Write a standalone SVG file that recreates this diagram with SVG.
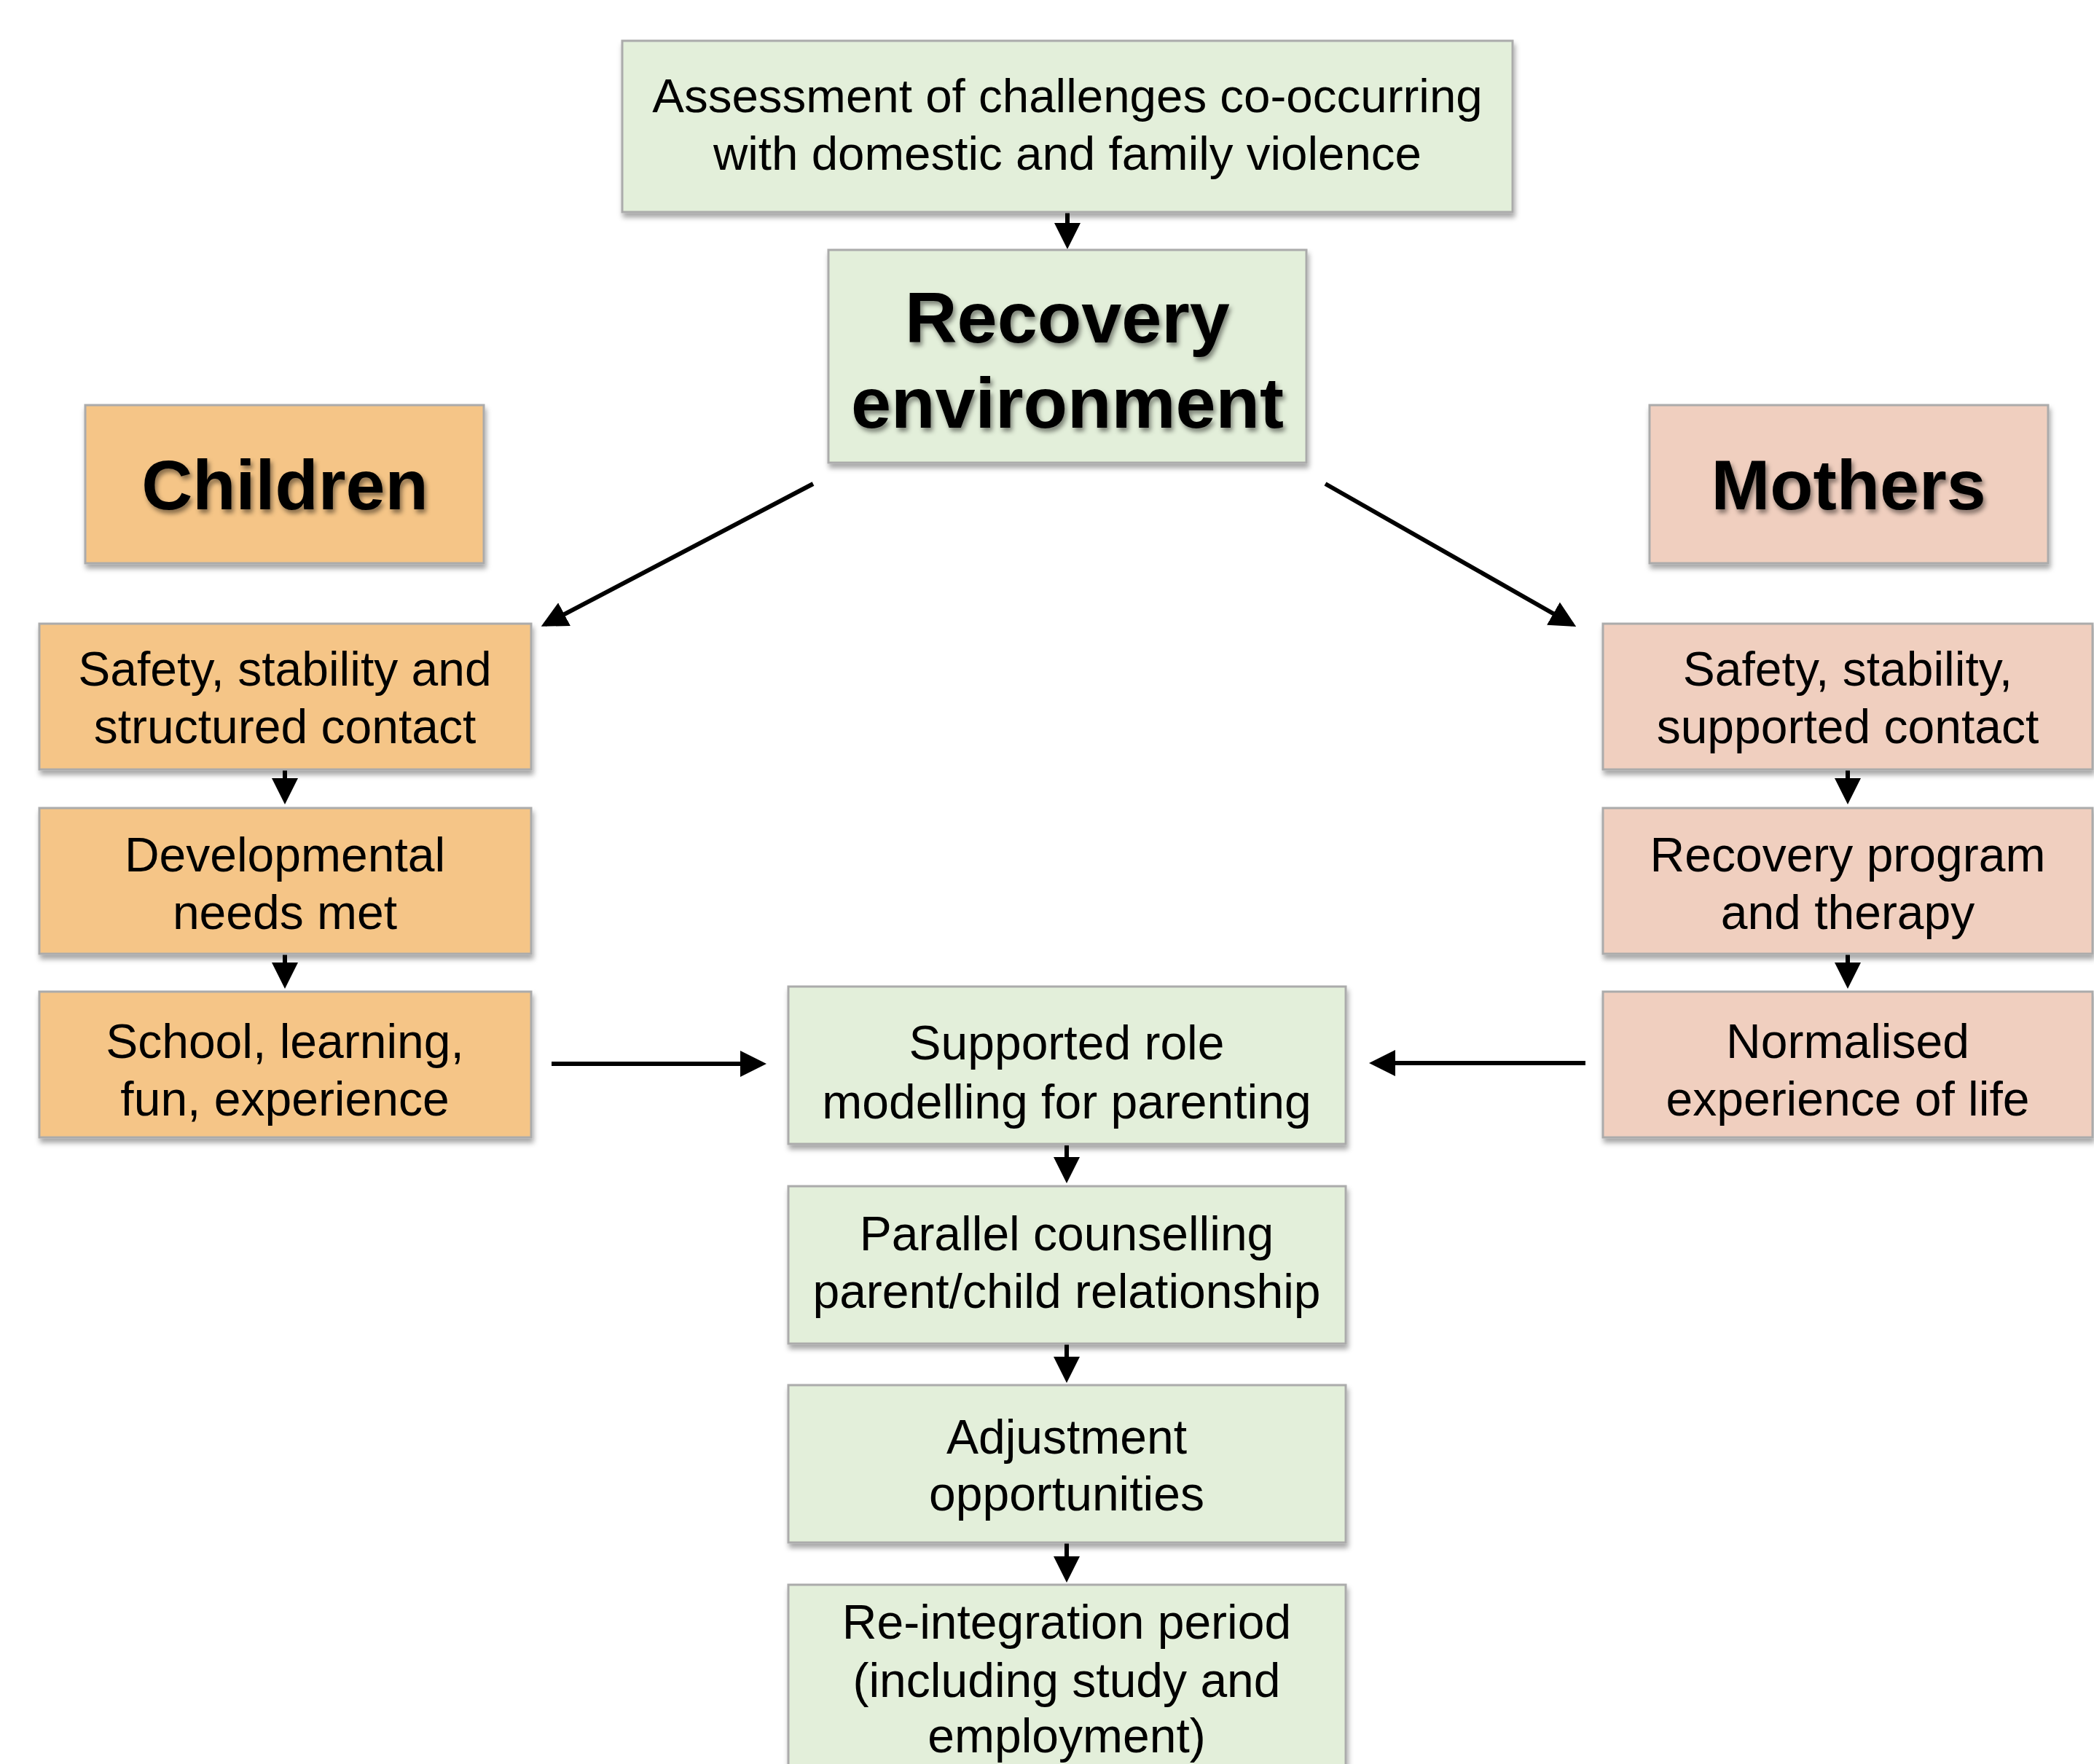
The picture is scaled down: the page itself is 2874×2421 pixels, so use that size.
<svg xmlns="http://www.w3.org/2000/svg" width="2874" height="2421" viewBox="0 0 2874 2421">
<defs>
<filter id="boxShadow" x="-5%" y="-10%" width="115%" height="130%">
<feDropShadow dx="2" dy="6" stdDeviation="3.5" flood-color="#000" flood-opacity="0.35"/>
</filter>
<filter id="textShadow" x="-5%" y="-10%" width="115%" height="130%">
<feDropShadow dx="3" dy="5" stdDeviation="3" flood-color="#000" flood-opacity="0.45"/>
</filter>
<marker id="arrow" viewBox="0 0 36 36" refX="30" refY="18" markerWidth="36" markerHeight="36" markerUnits="userSpaceOnUse" orient="auto">
<path d="M0,0 L36,18 L0,36 z" fill="#000"/>
</marker>
</defs>
<style>
.box { stroke: #ababab; stroke-width: 3; filter: url(#boxShadow); }
.green { fill: #e3efda; }
.orange { fill: #f5c587; }
.pink { fill: #f0cfbf; }
.t { font-family: "Liberation Sans", Arial, Helvetica, sans-serif; font-size: 66px; fill: #000; text-anchor: middle; }
.top { font-size: 65.5px; }
.title { font-family: "Liberation Sans", Arial, Helvetica, sans-serif; font-weight: bold; font-size: 97px; fill: #000; text-anchor: middle; filter: url(#textShadow); }
.big { font-size: 99px; }
.conn { stroke: #000; stroke-width: 6; fill: none; marker-end: url(#arrow); }
</style>
<rect width="2874" height="2421" fill="#fff"/>

<g id="connectors">
<line class="conn" x1="1465" y1="292" x2="1465" y2="336"/>
<line class="conn" x1="1116" y1="664" x2="748" y2="857"/>
<line class="conn" x1="1819" y1="664" x2="2158" y2="857"/>
<line class="conn" x1="391" y1="1057" x2="391" y2="1098"/>
<line class="conn" x1="391" y1="1310" x2="391" y2="1351"/>
<line class="conn" x1="2536" y1="1057" x2="2536" y2="1098"/>
<line class="conn" x1="2536" y1="1310" x2="2536" y2="1351"/>
<line class="conn" x1="757" y1="1460" x2="1046" y2="1460"/>
<line class="conn" x1="2176" y1="1459" x2="1885" y2="1459"/>
<line class="conn" x1="1464" y1="1572" x2="1464" y2="1618"/>
<line class="conn" x1="1464" y1="1845" x2="1464" y2="1892"/>
<line class="conn" x1="1464" y1="2118" x2="1464" y2="2166"/>
</g>

<g id="assessment">
<rect class="box green" x="854" y="56" width="1222" height="235"/>
<text class="t top" x="1465" y="154">Assessment of challenges co-occurring</text>
<text class="t top" x="1465" y="233">with domestic and family violence</text>
</g>

<g id="recovery-environment">
<rect class="box green" x="1137" y="343" width="656" height="292"/>
<text class="title big" x="1465" y="470">Recovery</text>
<text class="title big" x="1465" y="587">environment</text>
</g>

<g id="children">
<rect class="box orange" x="117" y="556" width="547" height="217"/>
<text class="title" x="391" y="699">Children</text>
</g>

<g id="mothers">
<rect class="box pink" x="2264" y="556" width="547" height="217"/>
<text class="title" x="2537" y="699">Mothers</text>
</g>

<g id="children-safety">
<rect class="box orange" x="54" y="856" width="675" height="200"/>
<text class="t" x="391" y="941">Safety, stability and</text>
<text class="t" x="391" y="1020">structured contact</text>
</g>

<g id="children-developmental">
<rect class="box orange" x="54" y="1109" width="675" height="200"/>
<text class="t" x="391" y="1196">Developmental</text>
<text class="t" x="391" y="1275">needs met</text>
</g>

<g id="children-school">
<rect class="box orange" x="54" y="1361" width="675" height="200"/>
<text class="t" x="391" y="1452">School, learning,</text>
<text class="t" x="391" y="1531">fun, experience</text>
</g>

<g id="mothers-safety">
<rect class="box pink" x="2200" y="856" width="672" height="200"/>
<text class="t" x="2536" y="941">Safety, stability,</text>
<text class="t" x="2536" y="1020">supported contact</text>
</g>

<g id="mothers-recovery">
<rect class="box pink" x="2200" y="1109" width="672" height="200"/>
<text class="t" x="2536" y="1196">Recovery program</text>
<text class="t" x="2536" y="1275">and therapy</text>
</g>

<g id="mothers-normalised">
<rect class="box pink" x="2200" y="1361" width="672" height="200"/>
<text class="t" x="2536" y="1452">Normalised</text>
<text class="t" x="2536" y="1531">experience of life</text>
</g>

<g id="role-modelling">
<rect class="box green" x="1082" y="1354" width="765" height="216"/>
<text class="t" x="1464" y="1454">Supported role</text>
<text class="t" x="1464" y="1535">modelling for parenting</text>
</g>

<g id="parallel-counselling">
<rect class="box green" x="1082" y="1628" width="765" height="216"/>
<text class="t" x="1464" y="1716">Parallel counselling</text>
<text class="t" x="1464" y="1795">parent/child relationship</text>
</g>

<g id="adjustment">
<rect class="box green" x="1082" y="1901" width="765" height="216"/>
<text class="t" x="1464" y="1995">Adjustment</text>
<text class="t" x="1464" y="2073">opportunities</text>
</g>

<g id="reintegration">
<rect class="box green" x="1082" y="2175" width="765" height="280"/>
<text class="t" x="1464" y="2249">Re-integration period</text>
<text class="t" x="1464" y="2329">(including study and</text>
<text class="t" x="1464" y="2405">employment)</text>
</g>
</svg>
